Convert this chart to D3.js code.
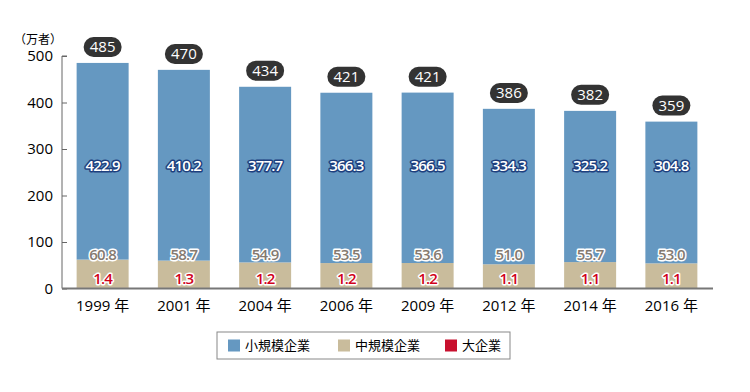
<!DOCTYPE html>
<html>
<head>
<meta charset="utf-8">
<script src="https://cdn.jsdelivr.net/npm/d3@7"></script>
<style>
  body { margin: 0; background: #fff; }
  svg { font-family: "Open Sans", "Noto Sans CJK JP", sans-serif; }
</style>
</head>
<body>
<div id="chart"></div>
<script>
var years = ['1999 年', '2001 年', '2004 年', '2006 年', '2009 年', '2012 年', '2014 年', '2016 年'];
var small = [422.9, 410.2, 377.7, 366.3, 366.5, 334.3, 325.2, 304.8];
var medium = [60.8, 58.7, 54.9, 53.5, 53.6, 51.0, 55.7, 53.0];
var large = [1.4, 1.3, 1.2, 1.2, 1.2, 1.1, 1.1, 1.1];
var totals = [485, 470, 434, 421, 421, 386, 382, 359];
var yTicks = [0, 100, 200, 300, 400, 500];
var seriesNames = ['小規模企業', '中規模企業', '大企業'];
var colors = ['#6598c1', '#c9bc9c', '#c8102e'];

var width = 750, height = 392;
var svg = d3.select('#chart').append('svg')
    .attr('width', width)
    .attr('height', height);

var x = d3.scaleBand().domain(years).range([62, 712]).paddingInner(0.36).paddingOuter(0.18);
var y = d3.scaleLinear().domain([0, 500]).range([288.5, 56]);

// unit label
svg.append('text')
    .attr('x', 14).attr('y', 44)
    .attr('font-size', 12)
    .attr('font-family', '"Noto Sans CJK JP", sans-serif')
    .text('（万者）');

// y axis
var gy = svg.append('g').attr('transform', 'translate(62,0)')
    .call(d3.axisRight(y).tickValues(yTicks).tickSize(5).tickFormat(''));
gy.select('.domain').attr('stroke', '#666').attr('d', 'M5,' + y(500) + 'H0V' + y(0));
gy.selectAll('.tick line').attr('stroke', '#666');
svg.selectAll('.ylab').data(yTicks).enter().append('text')
    .attr('class', 'ylab')
    .attr('x', 53)
    .attr('y', function (d) { return y(d); })
    .attr('dy', '0.36em')
    .attr('text-anchor', 'end')
    .attr('font-size', 15)
    .text(function (d) { return d; });

// stacked bars
var rows = years.map(function (yr, i) {
    return { year: yr, large: large[i], medium: medium[i], small: small[i] };
});
var stack = d3.stack().keys(['large', 'medium', 'small'])(rows);
var colorFor = { large: colors[2], medium: colors[1], small: colors[0] };

stack.forEach(function (layer) {
    svg.append('g').selectAll('rect').data(layer).enter().append('rect')
        .attr('x', function (d) { return x(d.data.year); })
        .attr('y', function (d) { return y(d[1]); })
        .attr('width', x.bandwidth())
        .attr('height', function (d) { return y(d[0]) - y(d[1]); })
        .attr('fill', colorFor[layer.key]);
});

// baseline
svg.append('line')
    .attr('x1', 62).attr('x2', 713)
    .attr('y1', y(0)).attr('y2', y(0))
    .attr('stroke', '#777').attr('stroke-width', 2);

// in-bar value labels (outlined text)
function valueLabels(vals, ypos, fill, stroke) {
    var g = svg.append('g');
    g.selectAll('text.o').data(vals).enter().append('text')
        .attr('x', function (d, i) { return x(years[i]) + x.bandwidth() / 2; })
        .attr('y', ypos)
        .attr('text-anchor', 'middle')
        .attr('font-size', 15)
        .attr('font-weight', 600)
        .attr('letter-spacing', -0.8)
        .attr('fill', stroke).attr('stroke', stroke)
        .attr('stroke-width', 3).attr('stroke-linejoin', 'round')
        .text(function (d) { return d.toFixed(1); });
    g.selectAll('text.i').data(vals).enter().append('text')
        .attr('x', function (d, i) { return x(years[i]) + x.bandwidth() / 2; })
        .attr('y', ypos)
        .attr('text-anchor', 'middle')
        .attr('font-size', 15)
        .attr('font-weight', 600)
        .attr('letter-spacing', -0.8)
        .attr('fill', fill)
        .text(function (d) { return d.toFixed(1); });
}
valueLabels(small, 170.5, '#fff', '#1d3f7e');
valueLabels(medium, 260, '#857a70', '#fff');
valueLabels(large, 284, '#d0021b', '#fff');

// total badges
var badges = svg.append('g').selectAll('g').data(totals).enter().append('g')
    .attr('transform', function (d, i) {
        return 'translate(' + (x(years[i]) + x.bandwidth() / 2) + ',' + (y(d) - 16) + ')';
    });
badges.append('rect')
    .attr('x', -19).attr('y', -10)
    .attr('width', 38).attr('height', 20)
    .attr('rx', 10)
    .attr('fill', '#333');
badges.append('text')
    .attr('text-anchor', 'middle')
    .attr('dy', '0.36em')
    .attr('font-size', 15)
    .attr('fill', '#fff')
    .text(function (d) { return d; });

// x labels
svg.selectAll('.xlab').data(years).enter().append('text')
    .attr('class', 'xlab')
    .attr('x', function (d) { return x(d) + x.bandwidth() / 2; })
    .attr('y', 311)
    .attr('text-anchor', 'middle')
    .attr('font-size', 15)
    .text(function (d) { return d; });

// legend
var legend = svg.append('g');
legend.append('rect')
    .attr('x', 217).attr('y', 332)
    .attr('width', 293).attr('height', 27)
    .attr('fill', 'none').attr('stroke', '#888');
var legX = [228, 338, 445];
var items = legend.selectAll('g').data(seriesNames).enter().append('g')
    .attr('transform', function (d, i) { return 'translate(' + legX[i] + ',345.5)'; });
items.append('rect')
    .attr('x', 0).attr('y', -6)
    .attr('width', 12).attr('height', 12)
    .attr('fill', function (d, i) { return colors[i]; });
items.append('text')
    .attr('x', 17)
    .attr('dy', '0.36em')
    .attr('font-size', 13)
    .attr('font-family', '"Noto Sans CJK JP", sans-serif')
    .text(function (d) { return d; });
</script>
</body>
</html>
